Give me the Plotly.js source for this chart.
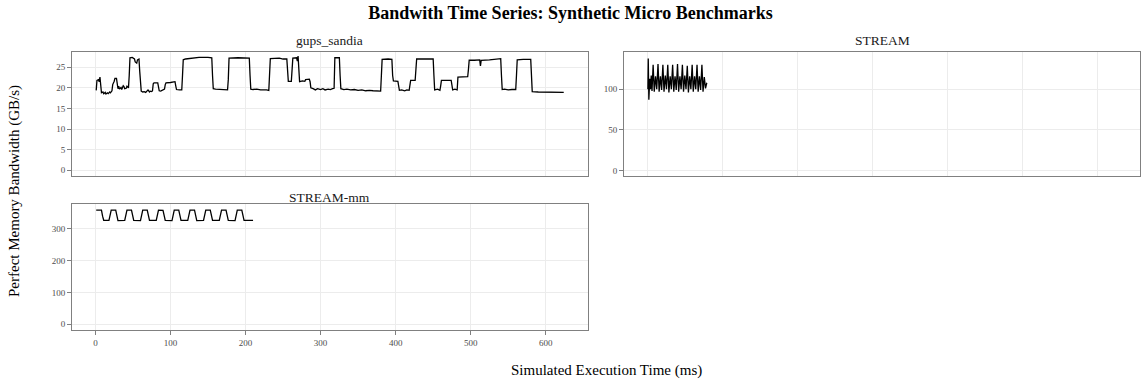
<!DOCTYPE html>
<html>
<head>
<meta charset="utf-8">
<script src="https://cdn.plot.ly/plotly-3.0.1.min.js"></script>
<style>html,body{margin:0;padding:0;background:#fff;}#chart{width:1141px;height:381px;}</style>
</head>
<body>
<div id="chart"></div>
<script>
// ---- data ----
const panelNames = ["gups_sandia", "STREAM", "STREAM-mm"];

const gupsTime = [1,2,4,5,6,7,8,10,11,13,14,16,17,19,20,22,23,25,26,28,29,30,31,32,34,35,37,38,39,41,42,44,45,46,49,52,53,55,56,58,59,60,61,63,65,67,69,70,72,73,75,76,77,78,83,84,85,87,90,92,93,94,100,106,107,108,112,115,116,117,120,130,138,150,155,156,157,160,165,170,173,176,177,178,190,200,205,206,207,210,215,220,225,228,231,232,233,245,250,255,256,257,261,262,263,268,269,270,271,272,276,279,280,285,286,287,290,293,296,300,303,306,310,313,316,318,319,325,326,327,331,335,340,345,350,355,360,365,370,375,380,381,382,390,395,396,397,403,404,405,408,412,415,418,419,420,426,427,428,440,450,451,452,456,459,460,461,474,475,476,479,482,483,490,496,497,498,505,512,513,514,525,535,540,541,542,545,550,555,560,561,562,570,580,581,582,590,600,608,615,624];
const gupsBW = [19.4,21.8,22.0,21.5,22.6,20.5,18.8,19.0,18.6,18.9,18.5,18.8,18.6,19.0,18.8,19.3,20.8,21.6,22.3,22.3,21.2,19.8,20.4,19.7,20.1,19.6,20.5,20.3,19.8,19.9,20.4,20.0,23.0,27.3,27.4,27.0,26.3,26.0,26.8,27.0,24.0,19.8,19.2,19.0,19.1,18.9,19.2,19.5,19.0,19.2,19.1,19.3,21.0,21.2,21.2,20.5,19.3,19.2,19.6,19.7,20.8,21.2,21.3,21.5,20.5,19.6,19.5,19.5,23.0,26.8,27.0,27.2,27.4,27.4,27.3,23.0,19.8,19.7,19.6,19.5,19.6,19.5,22.0,27.2,27.3,27.3,27.2,23.0,19.7,19.6,19.7,19.5,19.6,19.5,19.4,23.0,27.1,27.2,27.0,27.0,24.0,21.6,21.6,24.5,27.2,27.3,26.5,27.7,24.0,21.5,21.7,21.6,22.0,22.1,21.5,20.0,19.8,19.5,19.8,19.6,19.8,19.5,19.7,19.6,19.8,19.9,27.3,27.3,23.0,19.8,19.6,19.7,19.5,19.6,19.4,19.5,19.3,19.4,19.3,19.3,19.2,23.0,26.9,27.0,26.9,23.0,21.7,21.6,20.5,19.4,19.5,19.3,19.5,19.4,20.6,21.8,21.8,24.0,27.0,27.0,27.0,23.0,19.5,19.7,19.4,20.5,21.8,21.8,20.5,19.5,19.7,19.5,22.6,22.6,22.7,24.5,26.7,26.7,26.8,25.3,26.7,26.8,27.0,27.1,23.0,19.6,19.7,19.5,19.6,19.6,23.0,26.8,26.9,26.9,23.0,19.1,19.0,19.0,19.0,19.0,18.9];

const streamTime = [0.5,1,1.8,3,4,5,6,7.5,9,10.7,12.3,14,15.5,17.2,18.8,20.5,22,23.7,25.3,27,28.5,30.2,31.8,33.5,35,36.7,38.3,40,41.5,43.2,44.8,46.5,48,49.7,51.3,53,54.5,56.2,57.8,59.5,61,62.7,64.3,66,67.5,69.2,70.8,72.5,74,75.7,77.3,79];
const streamBW = [100,138,87,113,100,117,98,130,97,116,100,131,97,116,99,130,97,117,100,130,96,116,100,130,97,116,99,131,97,116,100,130,97,117,100,129,96,116,100,130,97,116,100,130,97,116,99,130,97,115,101,108];

const mmTime = [1,8,9.5,11,18,19.5,21,27,28.5,30,39,40.5,42,48,49.5,51,60,61.5,63,69,70.5,72,81,82.5,84,90,91.5,93,102,103.5,105,111,112.5,114,123,124.5,126,132,133.5,135,144,145.5,147,153,154.5,156,165,166.5,168,174,175.5,177,186,187.5,189,195,196.5,198,210];
const mmBW = [359,359,340,327,327,345,359,359,340,326,327,345,359,359,340,327,326,345,359,359,340,327,327,345,359,358,340,327,326,345,359,359,340,327,327,345,359,359,340,326,327,345,359,359,340,327,327,345,359,359,340,327,326,345,359,359,340,327,327];

const xTickVals = [0,100,200,300,400,500,600];
const gupsTicks = [0,5,10,15,20,25];
const streamTicks = [0,50,100];
const mmTicks = [0,100,200,300];

// ---- styling ----
const FONT = "Liberation Serif, Times New Roman, serif";
const lineStyle = {color: "#000000", width: 1.3};
const xr = [-31.25, 656.25];

function axisBase(extra) {
  return Object.assign({
    showline: true, mirror: true, linecolor: "#808080", linewidth: 1,
    ticks: "outside", ticklen: 4, tickwidth: 1, tickcolor: "#808080",
    showgrid: true, gridcolor: "#ececec", gridwidth: 1, zeroline: false,
    tickfont: {family: FONT, size: 9, color: "#4d4d4d"}, fixedrange: true
  }, extra);
}

const traces = [
  {x: gupsTime, y: gupsBW, type: "scatter", mode: "lines", line: lineStyle, xaxis: "x", yaxis: "y", name: panelNames[0], hoverinfo: "skip"},
  {x: streamTime, y: streamBW, type: "scatter", mode: "lines", line: lineStyle, xaxis: "x2", yaxis: "y2", name: panelNames[1], hoverinfo: "skip"},
  {x: mmTime, y: mmBW, type: "scatter", mode: "lines", line: lineStyle, xaxis: "x3", yaxis: "y3", name: panelNames[2], hoverinfo: "skip"}
];

const topDom = [0.554, 1];
const botDom = [0, 0.453];
const leftDom = [0, 0.4831];
const rightDom = [0.5169, 1];

const stripFont = {family: FONT, size: 13.5, color: "#1a1a1a"};
const axTitleFont = {family: FONT, size: 15, color: "#000"};

const layout = {
  width: 1141, height: 381,
  margin: {l: 72, r: 1, t: 52, b: 51, pad: 0},
  paper_bgcolor: "#ffffff", plot_bgcolor: "#ffffff",
  showlegend: false,
  font: {family: FONT, color: "#000000"},
  title: {text: "<b>Bandwith Time Series: Synthetic Micro Benchmarks</b>", font: {family: FONT, size: 18, color: "#000"}, x: 0.5, xref: "container", y: 0.966, yref: "container", yanchor: "middle"},
  xaxis: axisBase({domain: leftDom, anchor: "y", range: xr, tickvals: xTickVals, showticklabels: false, ticks: ""}),
  yaxis: axisBase({domain: topDom, anchor: "x", range: [-1.37, 28.7], tickvals: gupsTicks}),
  xaxis2: axisBase({domain: rightDom, anchor: "y2", range: xr, tickvals: xTickVals, showticklabels: false, ticks: ""}),
  yaxis2: axisBase({domain: topDom, anchor: "x2", range: [-6.95, 145.9], tickvals: streamTicks}),
  xaxis3: axisBase({domain: leftDom, anchor: "y3", range: xr, tickvals: xTickVals}),
  yaxis3: axisBase({domain: botDom, anchor: "x3", range: [-18, 378], tickvals: mmTicks}),
  annotations: [
    {text: panelNames[0], xref: "paper", yref: "paper", x: (leftDom[0]+leftDom[1])/2, y: 1.0396, xanchor: "center", yanchor: "middle", showarrow: false, font: stripFont},
    {text: panelNames[1], xref: "paper", yref: "paper", x: (rightDom[0]+rightDom[1])/2, y: 1.0396, xanchor: "center", yanchor: "middle", showarrow: false, font: stripFont},
    {text: panelNames[2], xref: "paper", yref: "paper", x: (leftDom[0]+leftDom[1])/2, y: 0.478, xanchor: "center", yanchor: "middle", showarrow: false, font: stripFont},
    {text: "Simulated Execution Time (ms)", xref: "paper", yref: "paper", x: 0.5, y: -0.144, xanchor: "center", yanchor: "middle", showarrow: false, font: axTitleFont},
    {text: "Perfect Memory Bandwidth (GB/s)", xref: "paper", yref: "paper", x: -0.0543, y: 0.5, xanchor: "center", yanchor: "middle", textangle: -90, showarrow: false, font: axTitleFont}
  ]
};

Plotly.newPlot("chart", traces, layout, {staticPlot: true, displayModeBar: false});
</script>
</body>
</html>
